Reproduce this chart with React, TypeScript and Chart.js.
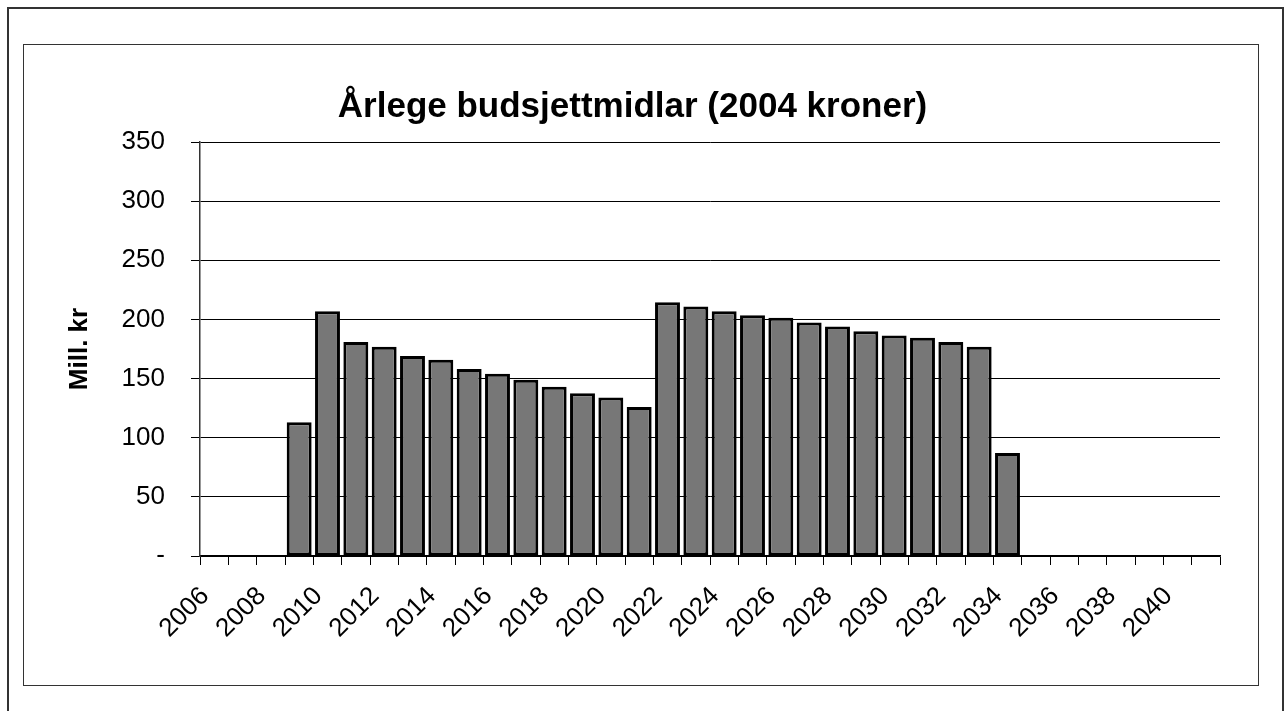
import React, { useEffect, useRef } from 'react';
import { Chart, registerables } from 'chart.js';

Chart.register(...registerables);

// ---- data ----
const YEARS = [
  '2006', '2007', '2008', '2009', '2010', '2011', '2012', '2013', '2014',
  '2015', '2016', '2017', '2018', '2019', '2020', '2021', '2022', '2023',
  '2024', '2025', '2026', '2027', '2028', '2029', '2030', '2031', '2032',
  '2033', '2034', '2035', '2036', '2037', '2038', '2039', '2040', '2041',
];

const BUDGET: (number | null)[] = [
  null, null, null, 113, 207, 181, 177, 169, 166,
  158, 154, 149, 143, 137.5, 134, 126, 214.5, 211,
  207, 203.5, 201.5, 197.5, 194, 190, 186.5, 184.5, 181,
  177, 87, null, null, null, null, null, null, null,
];

const Y_MIN = 0;
const Y_MAX = 350;
const Y_STEP = 50;

const TITLE = 'Årlege budsjettmidlar (2004 kroner)';
const Y_TITLE = 'Mill. kr';

const FONT = '"Liberation Sans", Arial, Helvetica, sans-serif';

const titlePlugin = {
  id: 'excelTitle',
  afterDraw(chart: any) {
    const ctx = chart.ctx;
    ctx.save();
    ctx.font = `bold 35px ${FONT}`;
    ctx.fillStyle = '#000';
    ctx.textAlign = 'center';
    ctx.textBaseline = 'alphabetic';
    ctx.fillText(TITLE, 608.5, 72);
    ctx.restore();
  },
};

export default function App() {
  const canvasRef = useRef<HTMLCanvasElement | null>(null);

  useEffect(() => {
    const canvas = canvasRef.current;
    if (!canvas) return;
    const chart = new Chart(canvas, {
      type: 'bar',
      data: {
        labels: YEARS,
        datasets: [
          {
            label: TITLE,
            data: BUDGET,
            backgroundColor: '#777777',
            borderColor: '#000000',
            borderWidth: 3,
            borderSkipped: false,
            categoryPercentage: 1,
            barPercentage: 0.88,
          },
        ],
      },
      options: {
        responsive: false,
        animation: false,
        devicePixelRatio: 1,
        layout: { padding: { top: 97, right: 38, bottom: 0, left: 0 } },
        plugins: {
          legend: { display: false },
          title: { display: false },
          tooltip: { enabled: false },
        },
        scales: {
          x: {
            type: 'category',
            offset: true,
            afterFit(scale: any) {
              scale.height = 129;
            },
            grid: {
              offset: true,
              drawOnChartArea: false,
              drawTicks: true,
              tickLength: 9,
              color: '#000',
              lineWidth: 1,
            },
            border: { display: true, color: '#000', width: 1.5 },
            ticks: {
              autoSkip: false,
              maxRotation: 45,
              minRotation: 45,
              padding: 16,
              labelOffset: -9,
              color: '#000',
              font: { family: FONT, size: 26 },
              callback(_v: any, index: number) {
                return index % 2 === 0 ? YEARS[index] : '';
              },
            },
          },
          y: {
            min: Y_MIN,
            max: Y_MAX,
            afterFit(scale: any) {
              scale.width = 176;
            },
            grid: {
              color: '#000',
              lineWidth: 1,
              drawTicks: true,
              tickLength: 9,
            },
            border: { display: true, color: '#333', width: 1.5 },
            ticks: {
              stepSize: Y_STEP,
              padding: 26,
              color: '#000',
              font: { family: FONT, size: 26 },
              callback(v: any) {
                return Number(v) === 0 ? '-' : String(v);
              },
            },
            title: {
              display: true,
              text: Y_TITLE,
              color: '#000',
              font: { family: FONT, size: 26, weight: 'bold' },
              padding: { top: 40, bottom: 0 },
            },
          },
        },
      },
      plugins: [titlePlugin],
    } as any);
    return () => chart.destroy();
  }, []);

  return (
    <div
      style={{
        position: 'fixed',
        left: 7,
        top: 7,
        width: 1277,
        height: 704,
        boxSizing: 'border-box',
        borderLeft: '2px solid #333',
        borderTop: '2px solid #333',
        borderRight: '2px solid #333',
        background: '#fff',
      }}
    >
      <div
        style={{
          position: 'absolute',
          left: 14,
          top: 35,
          width: 1236,
          height: 642,
          boxSizing: 'border-box',
          border: '1px solid #333',
        }}
      >
        <canvas
          ref={canvasRef}
          width={1234}
          height={640}
          style={{ display: 'block', width: 1234, height: 640 }}
        />
      </div>
    </div>
  );
}
